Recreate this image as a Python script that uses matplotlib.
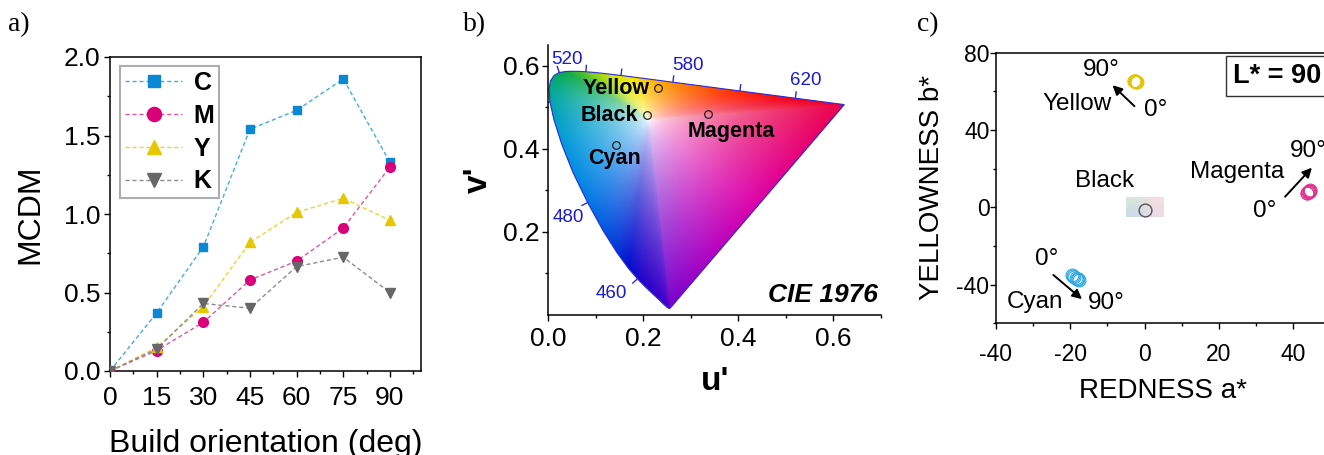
import numpy as np
import matplotlib
matplotlib.use("Agg")
import matplotlib.pyplot as plt
from matplotlib.patches import Polygon

plt.rcParams['font.family'] = ['Liberation Sans', 'DejaVu Sans']

# ---------------- panel a: MCDM vs build orientation
orient = [0, 15, 30, 45, 60, 75, 90]
mcdm_c = [0.0, 0.37, 0.79, 1.54, 1.66, 1.86, 1.33]
mcdm_c_err = [0.0, 0.01, 0.01, 0.02, 0.02, 0.02, 0.02]
mcdm_m = [0.0, 0.13, 0.31, 0.58, 0.70, 0.91, 1.30]
mcdm_y = [0.0, 0.15, 0.41, 0.82, 1.01, 1.10, 0.96]
mcdm_k = [0.0, 0.14, 0.43, 0.40, 0.665, 0.725, 0.50]

# ---------------- panel b: CIE 1931 spectral locus (x, y) and samples
locus_nm = [380, 400, 410, 420, 425, 430, 435, 440, 445, 450, 455, 460, 465, 470,
            475, 480, 485, 490, 495, 500, 505, 510, 515, 520, 525, 530, 535, 540,
            545, 550, 555, 560, 565, 570, 575, 580, 585, 590, 595, 600, 605, 610,
            615, 620, 625, 630, 640, 650, 660, 680, 700]
locus_x = [0.1741, 0.1733, 0.1726, 0.1714, 0.1703, 0.1689, 0.1669, 0.1644, 0.1611,
           0.1566, 0.1510, 0.1440, 0.1355, 0.1241, 0.1096, 0.0913, 0.0687, 0.0454,
           0.0235, 0.0082, 0.0039, 0.0139, 0.0389, 0.0743, 0.1142, 0.1547, 0.1929,
           0.2296, 0.2658, 0.3016, 0.3373, 0.3731, 0.4087, 0.4441, 0.4788, 0.5125,
           0.5448, 0.5752, 0.6029, 0.6270, 0.6482, 0.6658, 0.6801, 0.6915, 0.7006,
           0.7079, 0.7190, 0.7260, 0.7300, 0.7334, 0.7347]
locus_y = [0.0050, 0.0048, 0.0048, 0.0051, 0.0058, 0.0069, 0.0086, 0.0109, 0.0138,
           0.0177, 0.0227, 0.0297, 0.0399, 0.0578, 0.0868, 0.1327, 0.2007, 0.2950,
           0.4127, 0.5384, 0.6548, 0.7502, 0.8120, 0.8338, 0.8262, 0.8059, 0.7816,
           0.7543, 0.7243, 0.6923, 0.6589, 0.6245, 0.5896, 0.5547, 0.5202, 0.4866,
           0.4544, 0.4242, 0.3965, 0.3725, 0.3514, 0.3340, 0.3197, 0.3083, 0.2993,
           0.2920, 0.2809, 0.2740, 0.2700, 0.2666, 0.2653]
wl_ticks = [460, 480, 500, 520, 540, 560, 580, 600, 620]
wl_labels = {460: (-18.6, -10.3), 480: (-13.9, -10.9), 520: (5.3, 9.7),
             580: (11.1, 11.9), 620: (7.4, 12.6)}
sample_names = ['Yellow', 'Black', 'Cyan', 'Magenta']
sample_u = [0.230, 0.208, 0.142, 0.337]
sample_v = [0.546, 0.482, 0.410, 0.484]

# ---------------- panel c: a*, b* for 0..90 deg orientations
yel_a = [-2.1, -2.2, -2.4, -2.5, -2.6, -2.8, -2.9]
yel_b = [64.6, 64.8, 65.0, 65.1, 65.3, 65.5, 65.6]
cya_a = [-19.6, -19.2, -18.9, -18.5, -18.1, -17.8, -17.6]
cya_b = [-34.9, -35.4, -35.9, -36.4, -36.9, -37.3, -37.6]
mag_a = [43.6, 43.8, 43.9, 44.1, 44.3, 44.4, 44.5]
mag_b = [7.2, 7.5, 7.8, 8.1, 8.4, 8.6, 8.9]
blk_a = [0.0]
blk_b = [-1.6]

# colour ramp of the diagram edge (wavelength -> rgb), purely cosmetic
edge_nm = [380, 455, 465, 475, 482, 490, 498, 506, 515, 525, 535, 545, 555, 565,
           573, 582, 592, 602, 620, 700]
edge_rgb = [(0.47, 0.00, 0.80), (0.15, 0.00, 0.78), (0.00, 0.05, 0.80),
            (0.00, 0.35, 0.88), (0.00, 0.52, 0.90), (0.00, 0.60, 0.85),
            (0.00, 0.64, 0.72), (0.00, 0.66, 0.55), (0.00, 0.66, 0.38),
            (0.05, 0.66, 0.28), (0.25, 0.74, 0.16), (0.55, 0.82, 0.05),
            (0.82, 0.90, 0.00), (0.98, 0.90, 0.00), (1.00, 0.72, 0.00),
            (1.00, 0.52, 0.00), (1.00, 0.30, 0.00), (1.00, 0.12, 0.00),
            (0.95, 0.00, 0.12), (0.92, 0.00, 0.28)]
purple_rgb = [(0.92, 0.00, 0.28), (0.90, 0.00, 0.48), (0.86, 0.00, 0.66),
              (0.70, 0.00, 0.75), (0.47, 0.00, 0.80)]

W, H = 1324, 455
fig = plt.figure(figsize=(W / 100, H / 100), dpi=100)


def px_axes(l, r, t, b):
    return fig.add_axes([l / W, 1 - b / H, (r - l) / W, (b - t) / H])


# ====================== panel a
ax = px_axes(110, 421, 57, 371)
ax.errorbar(orient, mcdm_c, yerr=mcdm_c_err, fmt='none', ecolor='#b5def7',
            elinewidth=1, capsize=3, zorder=2)
series = [(mcdm_c, 'C', 's', '#0a88d4', '#44ace4', 6.2),
          (mcdm_m, 'M', 'o', '#d9007a', '#e5559b', 7.0),
          (mcdm_y, 'Y', '^', '#e6c800', '#f0d22e', 7.2),
          (mcdm_k, 'K', 'v', '#676767', '#8c8c8c', 7.2)]
for vals, lab, mk, mc, lc, ms in series:
    ax.plot(orient, vals, ls=(0, (3, 2)), lw=1, color=lc, marker=mk, ms=ms,
            mfc=mc, mec=mc, label=lab, zorder=3)
ax.set_xlim(0, 100)
ax.set_ylim(0, 2.0)
ax.set_xticks(orient)
ax.set_xticks(np.arange(7.5, 100, 15), minor=True)
ax.set_yticks([0.0, 0.5, 1.0, 1.5, 2.0])
ax.set_yticklabels(['0.0', '0.5', '1.0', '1.5', '2.0'])
ax.set_yticks([0.25, 0.75, 1.25, 1.75], minor=True)
ax.tick_params(which='both', direction='out', width=1, labelsize=19)
ax.tick_params(which='major', length=4)
ax.tick_params(which='minor', length=2.5)
ax.tick_params(axis='x', pad=7)
ax.tick_params(axis='y', pad=3)
for s in ax.spines.values():
    s.set_linewidth(1.1)
leg = ax.legend(loc='upper left', bbox_to_anchor=(0.032, 0.971), borderaxespad=0,
                fancybox=False, edgecolor='#9a9a9a', prop={'weight': 'bold', 'size': 18},
                handlelength=2.3, handletextpad=0.45, labelspacing=0.35,
                borderpad=0.2, markerscale=1.45)
leg.get_frame().set_linewidth(1.5)
ax.set_xlabel('Build orientation (deg)', fontsize=23, va='baseline')
ax.xaxis.set_label_coords(0.5, -0.258)
ax.set_ylabel('MCDM', fontsize=23, va='center')
ax.yaxis.set_label_coords(-0.257, 0.5)

# ====================== panel b
bx = px_axes(548.3, 880.7, 45, 315)
bx.set_xlim(0, 0.7)
bx.set_ylim(0, 0.65)


def xy_to_uv(x, y):
    d = -2 * x + 12 * y + 3
    return 4 * x / d, 9 * y / d


lx = np.array(locus_x)
ly = np.array(locus_y)
lu, lv = xy_to_uv(lx, ly)
er = np.array(edge_rgb)
lcol = np.stack([np.interp(locus_nm, edge_nm, er[:, k]) for k in range(3)], -1)

# line of purples (700 -> 380)
s = np.linspace(0, 1, 80)[1:-1]
pu = lu[-1] + (lu[0] - lu[-1]) * s
pv = lv[-1] + (lv[0] - lv[-1]) * s
pr_ = np.array(purple_rgb)
ps = np.linspace(0, 1, len(purple_rgb))
pcol = np.stack([np.interp(s, ps, pr_[:, k]) for k in range(3)], -1)

bu = np.concatenate([lu, pu])
bv = np.concatenate([lv, pv])
bcol = np.vstack([lcol, pcol])
uw, vw = 0.212, 0.470
ang = np.arctan2(bv - vw, bu - uw)
rad = np.hypot(bu - uw, bv - vw)
o = np.argsort(ang)
ang, rad, bcol = ang[o], rad[o], bcol[o]

U, V = np.meshgrid(np.linspace(0, 0.7, 700), np.linspace(0, 0.65, 650))
pa = np.arctan2(V - vw, U - uw)
pr = np.hypot(U - uw, V - vw)
rb = np.interp(pa, ang, rad, period=2 * np.pi)
t = np.clip(pr / rb, 0, 1)[..., None] ** 0.6
cb = np.stack([np.interp(pa, ang, bcol[:, k], period=2 * np.pi) for k in range(3)], -1)
img = 1 - t * (1 - cb)
im = bx.imshow(img, extent=[0, 0.7, 0, 0.65], origin='lower', aspect='auto',
               interpolation='bilinear', zorder=1)
clip = Polygon(np.column_stack([lu, lv]), closed=True, transform=bx.transData,
               fc='none', ec='none')
bx.add_patch(clip)
im.set_clip_path(clip)
bx.add_patch(Polygon(np.column_stack([lu, lv]), closed=True, fc='none',
                     ec='#2a2ad8', lw=0.8, zorder=2))

# wavelength ticks
bw = (880.7 - 548.3) / 0.7
bh = (315 - 45) / 0.65
for wl in wl_ticks:
    i = locus_nm.index(wl)
    tu = (lu[i + 1] - lu[i - 1]) * bw
    tv = (lv[i + 1] - lv[i - 1]) * bh
    nu, nv = tv, -tu
    n = np.hypot(nu, nv)
    nu, nv = nu / n, nv / n
    if (lu[i] - uw) * nu * bw + (lv[i] - vw) * nv * bh < 0:
        nu, nv = -nu, -nv
    L = 7
    bx.plot([lu[i], lu[i] + nu * L / bw], [lv[i], lv[i] + nv * L / bh],
            color='#2a2ad8', lw=1, zorder=2, solid_capstyle='butt')
    if wl in wl_labels:
        bx.annotate(str(wl), (lu[i], lv[i]), xytext=wl_labels[wl],
                    textcoords='offset points', ha='center', va='center',
                    fontsize=13.5, color='#1a1ad0')

bx.plot(sample_u, sample_v, 'o', ms=5.5, mfc='none', mec='#222222', mew=0.9, zorder=4)
lab_off = {'Yellow': ((-5.5, 0), 'right'), 'Black': ((-6.3, -0.5), 'right'),
           'Cyan': ((-0.7, -10.3), 'center'), 'Magenta': ((16.3, -12.5), 'center')}
for nm, u, v in zip(sample_names, sample_u, sample_v):
    off, ha = lab_off[nm]
    bx.annotate(nm, (u, v), xytext=off, textcoords='offset points', ha=ha,
                va='center', fontsize=15.5, fontweight='bold', zorder=5)
bx.text(0.694, 0.032, 'CIE 1976', ha='right', va='baseline', fontsize=19,
        fontweight='bold', fontstyle='italic')
bx.spines['top'].set_visible(False)
bx.spines['right'].set_visible(False)
for sp in ('left', 'bottom'):
    bx.spines[sp].set_linewidth(1.1)
bx.set_xticks([0.0, 0.2, 0.4, 0.6])
bx.set_xticklabels(['0.0', '0.2', '0.4', '0.6'])
bx.set_xticks([0.1, 0.3, 0.5, 0.7], minor=True)
bx.set_yticks([0.2, 0.4, 0.6])
bx.set_yticklabels(['0.2', '0.4', '0.6'])
bx.set_yticks([0.1, 0.3, 0.5], minor=True)
bx.tick_params(which='both', direction='out', width=1, labelsize=19)
bx.tick_params(which='major', length=4)
bx.tick_params(which='minor', length=2.5)
bx.tick_params(axis='x', pad=5)
bx.tick_params(axis='y', pad=2)
bx.set_xlabel("u'", fontsize=24, fontweight='bold', va='baseline')
bx.xaxis.set_label_coords(0.5015, -0.278)
bx.set_ylabel("v'", fontsize=24, fontweight='bold', va='center')
bx.yaxis.set_label_coords(-0.2115, 0.5)

# ====================== panel c
cx = px_axes(995.7, 995.7 + 372, 52.7, 323.3)
cx.set_xlim(-40, 60)
cx.set_ylim(-60, 80)
grad = np.array([[[0.80, 0.86, 0.91], [0.93, 0.86, 0.90]],
                 [[0.84, 0.90, 0.87], [0.95, 0.87, 0.88]]])
cx.imshow(grad, extent=[-5, 5, -5, 5], origin='lower', aspect='auto',
          interpolation='bilinear', zorder=1)
cx.plot(yel_a, yel_b, 'o', ms=9.2, mfc='none', mec='#e3c400', mew=0.8, zorder=3)
cx.plot(cya_a, cya_b, 'o', ms=9.2, mfc='none', mec='#2aa6e2', mew=0.8, zorder=3)
cx.plot(mag_a, mag_b, 'o', ms=9.2, mfc='none', mec='#e2318f', mew=0.8, zorder=3)
cx.plot(blk_a, blk_b, 'o', ms=9.2, mfc='none', mec='#555555', mew=1.0, zorder=3)

arrow = dict(arrowstyle='-|>', color='k', lw=1.4, mutation_scale=14, shrinkA=0, shrinkB=0)
cx.annotate('', xy=(-8.6, 63.2), xytext=(-2.7, 52.3), arrowprops=arrow)
cx.annotate('', xy=(45.0, 20.5), xytext=(37.8, 5.5), arrowprops=arrow)
cx.annotate('', xy=(-16.8, -47.5), xytext=(-24.5, -35.0), arrowprops=arrow)
fs = 17.5
cx.text(-11.6, 71.1, '90°', fontsize=fs, ha='center', va='center')
cx.text(-18.2, 53.5, 'Yellow', fontsize=fs, ha='center', va='center')
cx.text(2.9, 50.4, '0°', fontsize=fs, ha='center', va='center')
cx.text(-10.8, 13.6, 'Black', fontsize=fs, ha='center', va='center')
cx.text(25.0, 18.2, 'Magenta', fontsize=fs, ha='center', va='center')
cx.text(39.1, 29.2, '90°', fontsize=fs, ha='left', va='center')
cx.text(32.4, -1.9, '0°', fontsize=fs, ha='center', va='center')
cx.text(-26.2, -26.6, '0°', fontsize=fs, ha='center', va='center')
cx.text(-29.5, -49.0, 'Cyan', fontsize=fs, ha='center', va='center')
cx.text(-10.3, -49.6, '90°', fontsize=fs, ha='center', va='center')
cx.text(23.8, 68.0, 'L* = 90', fontsize=19.5, fontweight='bold', ha='left', va='center',
        bbox=dict(boxstyle='square,pad=0.25', fc='white', ec='#333333', lw=1))

cx.set_xticks([-40, -20, 0, 20, 40])
cx.set_xticklabels(['-40', '-20', '0', '20', '40'])
cx.set_xticks([-30, -10, 10, 30, 50], minor=True)
cx.set_yticks([-40, 0, 40, 80])
cx.set_yticklabels(['-40', '0', '40', '80'])
cx.set_yticks([-60, -20, 20, 60], minor=True)
cx.tick_params(which='both', direction='out', width=1, labelsize=16.5)
cx.tick_params(which='major', length=4)
cx.tick_params(which='minor', length=2.5)
cx.tick_params(axis='x', pad=10)
cx.tick_params(axis='y', pad=0.5)
for sp in cx.spines.values():
    sp.set_linewidth(1.1)
cx.set_xlabel('REDNESS a*', fontsize=20, va='baseline')
cx.xaxis.set_label_coords(0.4505, -0.276)
cx.set_ylabel('YELLOWNESS b*', fontsize=20, va='center')
cx.yaxis.set_label_coords(-0.172, 0.5)

# panel letters
for txt, x in (('a)', 8.3), ('b)', 463.3), ('c)', 916.7)):
    fig.text(x / W, 1 - 31.5 / H, txt, fontsize=20, family='Liberation Serif',
             ha='left', va='baseline')

fig.savefig('out.png', dpi=100)
